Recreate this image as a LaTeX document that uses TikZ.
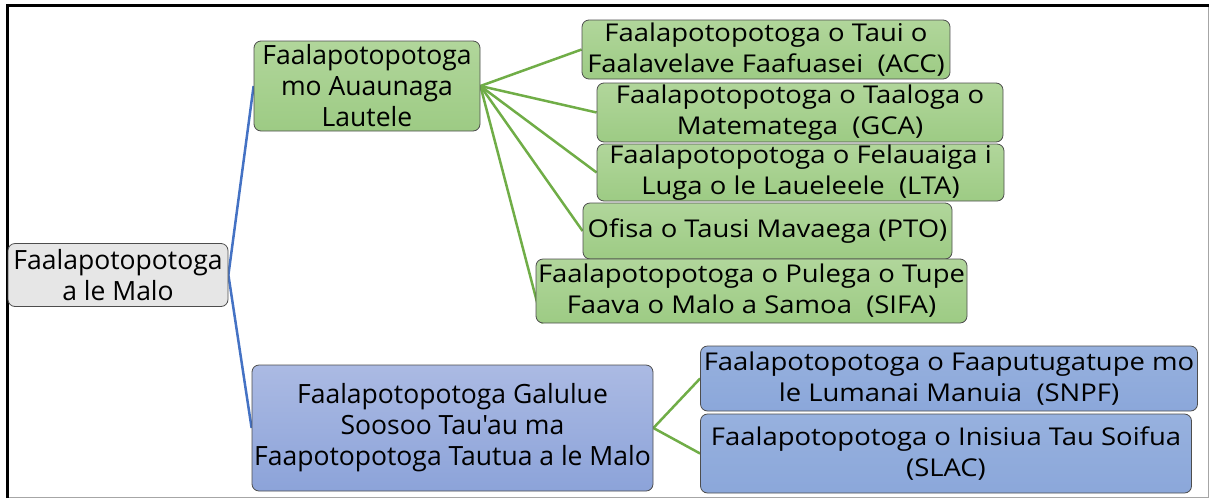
\documentclass[tikz,border=0pt]{standalone}
\usepackage{fontspec}
\newfontfamily\osans{Open Sans}
\newfontfamily\wsans{Open Sans}[FakeStretch=1.12]
\usetikzlibrary{backgrounds}
\definecolor{gfillA}{HTML}{B1D69B}
\definecolor{gfillB}{HTML}{9DCB84}
\definecolor{bfillA}{HTML}{ABBAE3}
\definecolor{bfillB}{HTML}{8CA3D9}
\definecolor{cfillA}{HTML}{97B1DE}
\definecolor{cfillB}{HTML}{8BA7DA}
\definecolor{rfill}{HTML}{E6E6E6}
\definecolor{edge}{HTML}{4D4D4D}
\definecolor{bline}{HTML}{4472C4}
\definecolor{gline}{HTML}{70AD47}
\tikzset{
  box/.style={draw=edge, line width=0.8pt, rounded corners=7pt, inner sep=0pt,
    align=center, font=\osans\fontsize{26.5}{31}\selectfont, text=black},
  sbox/.style={box, font=\wsans\fontsize{24.5}{31}\selectfont},
  gbox/.style={box, top color=gfillA, bottom color=gfillB},
  gsbox/.style={sbox, top color=gfillA, bottom color=gfillB},
  bbox/.style={box, top color=bfillA, bottom color=bfillB},
  cbox/.style={sbox, top color=cfillA, bottom color=cfillB},
  rbox/.style={box, fill=rfill},
  bconn/.style={draw=bline, line width=2.5pt},
  gconn/.style={draw=gline, line width=2.5pt},
}
\begin{document}
\begin{tikzpicture}[x=1pt,y=-1pt]
\useasboundingbox (0,0) rectangle (1210,499);
\draw[gray!70, line width=0.8pt] (7,5) rectangle (1208.5,497);
\draw[black, line width=3pt] (7,498) -- (7,5.5) -- (1209,5.5);

\node[rbox, minimum width=220pt, minimum height=63pt] (root) at (118,275) {Faalapotopotoga\\a le Malo};
\node[gbox, minimum width=226pt, minimum height=90pt] (gp) at (367,86) {Faalapotopotoga\\mo Auaunaga\\Lautele};
\node[bbox, minimum width=401pt, minimum height=126pt] (bp) at (452.5,428) {Faalapotopotoga Galulue\\Soosoo Tau'au ma\\Faapotopotoga Tautua a le Malo};

\node[gsbox, minimum width=368pt, minimum height=59pt] (acc) at (766,49.5) {Faalapotopotoga o Taui o\\Faalavelave Faafuasei~~(ACC)};
\node[gsbox, minimum width=406pt, minimum height=59pt] (gca) at (800,112.5) {Faalapotopotoga o Taaloga o\\Matematega~~(GCA)};
\node[gsbox, minimum width=407pt, minimum height=57pt] (lta) at (800.5,172.5) {Faalapotopotoga o Felauaiga i\\Luga o le Laueleele~~(LTA)};
\node[gsbox, minimum width=369pt, minimum height=56pt] (pto) at (767.5,231) {Ofisa o Tausi Mavaega (PTO)};
\node[gsbox, minimum width=431pt, minimum height=64pt] (sifa) at (751.5,291) {Faalapotopotoga o Pulega o Tupe\\Faava o Malo a Samoa~~(SIFA)};
\node[cbox, minimum width=497pt, minimum height=65pt] (snpf) at (949,378.5) {Faalapotopotoga o Faaputugatupe mo\\le Lumanai Manuia~~(SNPF)};
\node[cbox, minimum width=491pt, minimum height=79pt] (slac) at (946,453.5) {Faalapotopotoga o Inisiua Tau Soifua\\(SLAC)};

\coordinate (sifaend) at ([xshift=7pt]sifa.south west);

\begin{scope}[on background layer]
\draw[bconn] (root.east) -- (gp.west);
\draw[bconn] (root.east) -- (bp.west);
\draw[gconn] (gp.east) -- (acc.west);
\draw[gconn] (gp.east) -- (gca.west);
\draw[gconn] (gp.east) -- (lta.west);
\draw[gconn] (gp.east) -- (pto.west);
\draw[gconn] (gp.east) -- (sifaend);
\draw[gconn] (bp.east) -- (snpf.west);
\draw[gconn] (bp.east) -- (slac.west);
\end{scope}
\end{tikzpicture}
\end{document}
